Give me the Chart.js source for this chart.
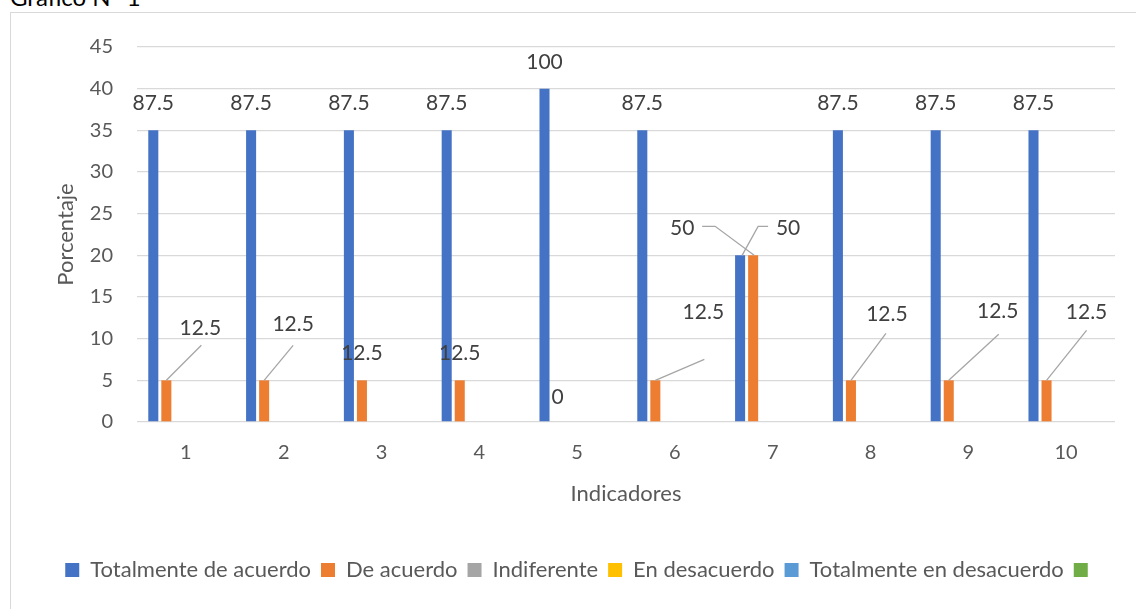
<!DOCTYPE html>
<html>
<head>
<meta charset="utf-8">
<script src="https://cdn.jsdelivr.net/npm/chart.js@4.4.1/dist/chart.umd.min.js"></script>
<style>
  html, body { margin: 0; padding: 0; background: #fff; overflow: hidden; }
  #frame { position: absolute; left: 10px; top: 12px; width: 1300px; height: 800px; border: 1px solid #d9d9d9; }
  #titulo { position: absolute; left: 10px; top: -15px; font: 24px Lato, sans-serif; line-height: 24px; color: #000; }
  #chart { position: absolute; left: 0; top: 0; }
</style>
</head>
<body>
<div id="frame"></div>
<div id="titulo">Gráfico N° 1</div>
<canvas id="chart" width="1136" height="609"></canvas>
<script>
// indicadores
const categorias = ['1', '2', '3', '4', '5', '6', '7', '8', '9', '10'];

// frecuencias (altura de las barras)
const totalmenteDeAcuerdo = [35, 35, 35, 35, 40, 35, 20, 35, 35, 35];
const deAcuerdo = [5, 5, 5, 5, 0, 5, 20, 5, 5, 5];
const indiferente = [0, 0, 0, 0, 0, 0, 0, 0, 0, 0];
const enDesacuerdo = [0, 0, 0, 0, 0, 0, 0, 0, 0, 0];
const totalmenteEnDesacuerdo = [0, 0, 0, 0, 0, 0, 0, 0, 0, 0];
const sinNombre = [0, 0, 0, 0, 0, 0, 0, 0, 0, 0];

// porcentajes mostrados como etiquetas
const pctTotalmenteDeAcuerdo = [87.5, 87.5, 87.5, 87.5, 100, 87.5, 50, 87.5, 87.5, 87.5];
const pctDeAcuerdo = [12.5, 12.5, 12.5, 12.5, 0, 12.5, 50, 12.5, 12.5, 12.5];

const yTicks = [0, 5, 10, 15, 20, 25, 30, 35, 40, 45];

// where each label sits, relative to the top centre of its bar (moved by hand in the original)
const DEF = { dx: 0, dy: -27 };
const layoutTotal = [DEF, DEF, DEF, DEF, { dx: 0, dy: -26 }, DEF,
  { dx: 48, dy: -27, leader: [[28, -29], [18, -29], [2, 0]] }, DEF, DEF, DEF];
const layoutDeAcuerdo = [
  { dx: 34, dy: -52, leader: [[35, -35], [0, 0]] },
  { dx: 29, dy: -56, leader: [[29, -35], [0, 0]] },
  DEF, DEF, { dx: 0, dy: -25 },
  { dx: 48, dy: -68, leader: [[49, -21], [0, 0]] },
  { dx: -71, dy: -27, leader: [[-51, -29], [-38, -29], [1, 0]] },
  { dx: 36, dy: -66, leader: [[35, -47], [0, 0]] },
  { dx: 49, dy: -69, leader: [[50, -46], [0, 0]] },
  { dx: 40, dy: -68, leader: [[40, -50], [0, 0]] }
];

const etiquetasPlugin = {
  id: 'etiquetas',
  afterDatasetsDraw(chart) {
    const ctx = chart.ctx;
    const sets = [[0, pctTotalmenteDeAcuerdo, layoutTotal], [1, pctDeAcuerdo, layoutDeAcuerdo]];
    ctx.save();
    sets.forEach(([di, labels, lay]) => {
      const meta = chart.getDatasetMeta(di);
      meta.data.forEach((bar, i) => {
        const l = lay[i];
        const x = bar.x, y = bar.y;
        if (l.leader) {
          ctx.beginPath();
          ctx.strokeStyle = '#a6a6a6';
          ctx.lineWidth = 1.3;
          l.leader.forEach((p, k) => {
            if (k === 0) ctx.moveTo(x + p[0], y + p[1]);
            else ctx.lineTo(x + p[0], y + p[1]);
          });
          ctx.stroke();
        }
        ctx.fillStyle = '#404040';
        ctx.font = '21px Lato';
        ctx.textAlign = 'center';
        ctx.textBaseline = 'middle';
        ctx.fillText(String(labels[i]), x + l.dx, y + l.dy);
      });
    });
    ctx.restore();
  }
};

const colores = ['#4472C4', '#ED7D31', '#A5A5A5', '#FFC000', '#5B9BD5', '#70AD47'];
const nombres = ['Totalmente de acuerdo', 'De acuerdo', 'Indiferente', 'En desacuerdo', 'Totalmente en desacuerdo', ''];
const series = [totalmenteDeAcuerdo, deAcuerdo, indiferente, enDesacuerdo, totalmenteEnDesacuerdo, sinNombre];

new Chart(document.getElementById('chart'), {
  type: 'bar',
  data: {
    labels: categorias,
    datasets: series.map((d, i) => ({
      label: nombres[i],
      data: d,
      backgroundColor: colores[i],
      borderWidth: 0,
      categoryPercentage: 0.8,
      barPercentage: 0.77
    }))
  },
  options: {
    responsive: false,
    animation: false,
    devicePixelRatio: 1,
    layout: { padding: { left: 49, right: 21, top: 47, bottom: 18 } },
    plugins: {
      tooltip: { enabled: false },
      legend: {
        position: 'bottom',
        labels: {
          color: '#595959',
          font: { family: 'Lato', size: 22 },
          boxWidth: 14,
          boxHeight: 14,
          padding: 10
        }
      }
    },
    scales: {
      x: {
        afterFit: (s) => { s.height = 127; },
        grid: { display: false, drawTicks: false },
        border: { display: false },
        ticks: { color: '#595959', font: { family: 'Lato', size: 20 }, padding: 19 },
        title: { display: true, text: 'Indicadores', color: '#595959',
          font: { family: 'Lato', size: 22 }, padding: { bottom: 42 } }
      },
      y: {
        min: 0,
        max: 45,
        afterFit: (s) => { s.width = 88; },
        afterBuildTicks: (s) => { s.ticks = yTicks.map(v => ({ value: v })); },
        grid: { color: '#d9d9d9', lineWidth: 1.3, drawTicks: false },
        border: { display: false },
        ticks: { color: '#595959', font: { family: 'Lato', size: 20 }, padding: 24 },
        title: { display: true, text: 'Porcentaje', color: '#595959',
          font: { family: 'Lato', size: 22 }, padding: { top: 4 } }
      }
    }
  },
  plugins: [etiquetasPlugin]
});
</script>
</body>
</html>
